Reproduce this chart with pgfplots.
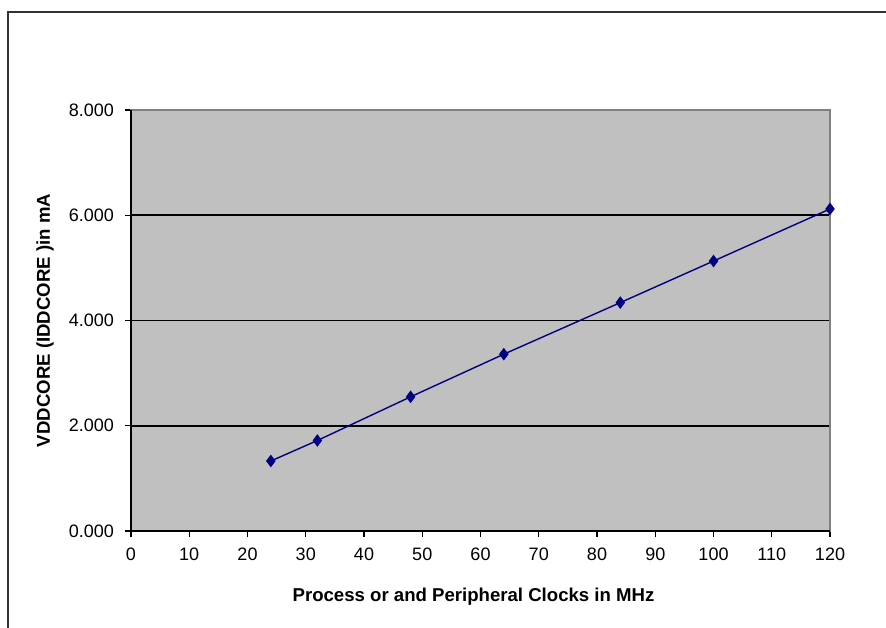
\documentclass[border=0pt]{standalone}
\usepackage{pgfplots}
\pgfplotsset{compat=1.18}
\usepackage{fontspec}
\setmainfont{Liberation Sans}
\definecolor{plotgray}{RGB}{192,192,192}
\definecolor{navyline}{RGB}{0,0,128}
\begin{document}
\begin{tikzpicture}
\useasboundingbox (0,0) rectangle (443pt,313.5pt);
\draw[line width=0.8pt,black!80] (4pt,-10pt) -- (4pt,307.5pt) -- (460pt,307.5pt);
\begin{axis}[
  at={(65.5pt,48pt)}, anchor=south west,
  scale only axis, width=349.5pt, height=210.5pt,
  xmin=0, xmax=120, ymin=0, ymax=8,
  xtick={0,10,...,120}, ytick={0,2,4,6,8},
  axis background/.style={fill=plotgray},
  axis line style={draw=gray, line width=0.8pt},
  tick align=outside, major tick length=3pt,
  tick style={black, line width=0.6pt},
  ymajorgrids, grid style={black, line width=0.9pt},
  xtick pos=bottom, ytick pos=left,
  /pgf/number format/assume math mode=true,
  yticklabel style={/pgf/number format/fixed, /pgf/number format/fixed zerofill, /pgf/number format/precision=3, xshift=-2pt},
  ticklabel style={font=\fontsize{9}{10}\selectfont},
  xticklabel style={yshift=-2pt},
  xlabel={Process or and Peripheral Clocks in MHz},
  ylabel={VDDCORE (IDDCORE )in mA},
  label style={font=\bfseries\fontsize{9.3}{10}\selectfont},
  xlabel style={at={(axis description cs:0.49,0)}, anchor=center, yshift=-33pt},
  ylabel style={at={(axis description cs:0,0.5)}, anchor=center, yshift=43pt},
  clip=false,
]
\addplot[color=navyline, line width=0.7pt, mark=diamond*, mark size=2.6pt, mark options={fill=navyline}]
  coordinates {(24,1.33) (32,1.72) (48,2.55) (64,3.36) (84,4.34) (100,5.13) (120,6.12)};
\draw[black, line width=0.8pt] (axis description cs:0,1) -- (axis description cs:0,0) -- (axis description cs:1,0);
\end{axis}
\end{tikzpicture}
\end{document}
